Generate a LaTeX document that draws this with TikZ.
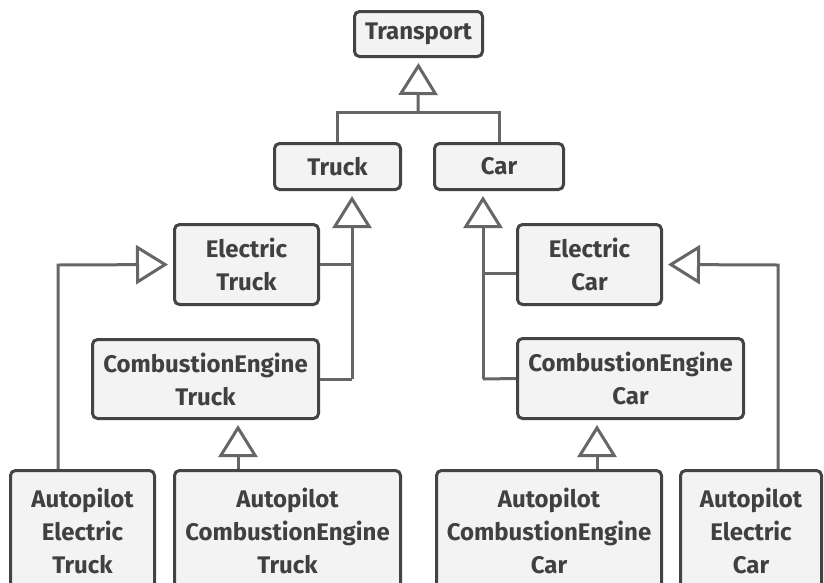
\documentclass[tikz,border=0pt]{standalone}
\usepackage{fontspec}
\setmainfont{Fira Sans}
\usepackage{xcolor}
\usepackage{tikz}
\usetikzlibrary{
    positioning,
    arrows.meta,
    calc
}
\definecolor{boxLine}{RGB}{68, 68, 68}
\definecolor{boxFill}{RGB}{243, 243, 243}
\definecolor{linkGray}{RGB}{102, 102, 102}
\definecolor{textGray}{RGB}{64, 64, 64}

\tikzset{
    cls/.style={draw=boxLine, fill=boxFill, line width=3pt, rounded corners=5pt,
        inner sep=0pt, align=center, text=textGray,
        font=\fontsize{24}{33}\selectfont\bfseries},
    link/.style={draw=linkGray, line width=3pt},
    inherit/.style={link, -{Triangle[open, length=32pt, width=39pt]}, shorten >=5pt}
}

\begin{document}
\begin{tikzpicture}[x=1pt, y=-1pt]
            \clip (0,0) rectangle (824,582);
            \fill[white] (0,0) rectangle (824,582);

            \node[cls, minimum width=128pt, minimum height=45pt] (transport) at (418.5,34) {Transport};
            \node[cls, minimum width=126pt, minimum height=46pt] (truck) at (337.5,166.5) {Truck};
            \node[cls, minimum width=129pt, minimum height=46pt] (car) at (499,166.5) {Car};

            \node[cls, minimum width=144pt, minimum height=80pt] (etruck) at (246.5,264.5) {Electric\\Truck};
            \node[cls, minimum width=226pt, minimum height=79pt] (cetruck) at (205.5,379) {CombustionEngine\\Truck};
            \node[cls, minimum width=144pt, minimum height=80pt] (ecar) at (589.5,264.5) {Electric\\Car};
            \node[cls, minimum width=226pt, minimum height=80pt] (cecar) at (630.5,378.5) {CombustionEngine\\Car};

            \node[cls, minimum width=144pt, minimum height=120pt] (apetruck) at (82.5,530.5) {Autopilot\\Electric\\Truck};
            \node[cls, minimum width=226pt, minimum height=120pt] (apcetruck) at (287.5,530.5) {Autopilot\\CombustionEngine\\Truck};
            \node[cls, minimum width=225pt, minimum height=120pt] (apcecar) at (549,530.5) {Autopilot\\CombustionEngine\\Car};
            \node[cls, minimum width=141pt, minimum height=120pt] (apecar) at (751,530.5) {Autopilot\\Electric\\Car};

            \coordinate (tj) at (418,112);
            \coordinate (tbus) at (352,379);
            \coordinate (cbus) at (483,379);
            \coordinate (cj) at (483,273);
            \coordinate (lbus) at (58,265);
            \coordinate (rbus) at (778,265);
            \coordinate (ltk) at (238,0);
            \coordinate (lcr) at (597,0);

            % top level
            \draw[link] (truck.north) |- (tj) -| (car.north);
            \draw[inherit] (tj) -- (transport.south);

            % trucks
            \draw[link] (cetruck.east) -- (tbus);
            \draw[link] (etruck.east) -- (etruck.east -| tbus);
            \draw[inherit] (tbus) -- (tbus |- truck.south);
            \draw[inherit] (lbus |- apetruck.north) -- (lbus) -- (etruck.west);
            \draw[inherit] (ltk |- apcetruck.north) -- (ltk |- cetruck.south);

            % cars
            \draw[link] (cecar.west) -- (cbus);
            \draw[link] (cj) -- (cj -| ecar.west);
            \draw[inherit] (cbus) -- (cbus |- car.south);
            \draw[inherit] (rbus |- apecar.north) -- (rbus) -- (ecar.east);
            \draw[inherit] (lcr |- apcecar.north) -- (lcr |- cecar.south);
        \end{tikzpicture}
\end{document}
